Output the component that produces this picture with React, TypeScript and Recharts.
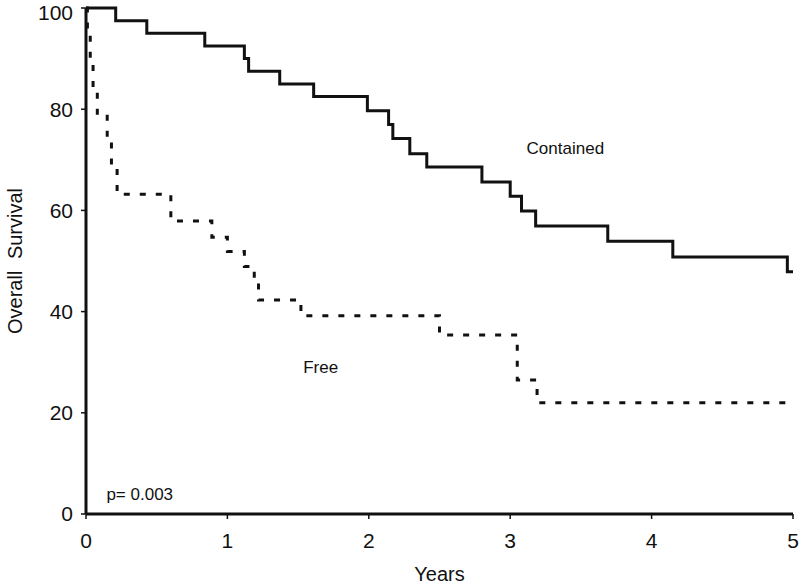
import { Label, Line, LineChart, ReferenceDot, XAxis, YAxis } from "recharts";

// Kaplan-Meier steps (years -> % surviving)
const containedYears = [
  0, 0.21, 0.43, 0.84, 1.12, 1.15, 1.37, 1.61, 1.99, 2.14, 2.17, 2.29, 2.41,
  2.8, 3.0, 3.08, 3.18, 3.69, 4.15, 4.96, 5.0,
];
const containedSurvival = [
  100, 97.5, 95, 92.5, 90, 87.5, 85, 82.5, 79.7, 77, 74.2, 71.2, 68.6, 65.6,
  62.8, 59.9, 56.9, 53.9, 50.8, 47.9, 47.9,
];

const freeYears = [
  0, 0.01, 0.03, 0.05, 0.08, 0.15, 0.18, 0.22, 0.6, 0.89, 1.0, 1.12, 1.19,
  1.22, 1.52, 2.5, 3.05, 3.19, 5.0,
];
const freeSurvival = [
  100, 94.7, 89.5, 84.2, 78.9, 73.7, 68.4, 63.2, 57.9, 54.7, 51.9, 48.9, 45.6,
  42.3, 39.2, 35.4, 26.5, 22.0, 22.0,
];

const xTicks = [0, 1, 2, 3, 4, 5];
const yTicks = [0, 20, 40, 60, 80, 100];

const containedData = containedYears.map((year, i) => ({
  year,
  value: containedSurvival[i],
}));
const freeData = freeYears.map((year, i) => ({ year, value: freeSurvival[i] }));

const FONT = "'Liberation Sans', Arial, Helvetica, sans-serif";
const INK = "#111";

// rotated y axis title, centred on the plot height
const YTitle = (props: any) => {
  const vb = props.viewBox || {};
  const cx = 15;
  const cy = (vb.y ?? 8) + (vb.height ?? 506) / 2;
  return (
    <text
      x={cx}
      y={cy}
      transform={`rotate(-90 ${cx} ${cy})`}
      textAnchor="middle"
      dominantBaseline="central"
      fill={INK}
      fontSize={20}
      fontFamily={FONT}
      wordSpacing={6}
    >
      Overall Survival
    </text>
  );
};

const App = () => {
  return (
    <div style={{ position: "absolute", left: 0, top: 0, background: "#fff" }}>
      <LineChart
        width={800}
        height={586}
        margin={{ top: 8, right: 7, left: 0, bottom: 12 }}
      >
        <XAxis
          type="number"
          dataKey="year"
          domain={[0, 5]}
          ticks={xTicks}
          allowDataOverflow
          height={60}
          axisLine={{ stroke: INK, strokeWidth: 3 }}
          tickLine={{ stroke: INK, strokeWidth: 1.5 }}
          tickSize={5}
          tickMargin={14}
          tick={{ fill: INK, fontSize: 21, fontFamily: FONT }}
        >
          <Label
            value="Years"
            position="insideBottom"
            offset={-7}
            style={{ fill: INK, fontSize: 20, fontFamily: FONT }}
          />
        </XAxis>
        <YAxis
          type="number"
          domain={[0, 100]}
          ticks={yTicks}
          width={86}
          axisLine={{ stroke: INK, strokeWidth: 3 }}
          tickLine={{ stroke: INK, strokeWidth: 1.5 }}
          tickSize={5}
          tickMargin={8}
          tick={{ fill: INK, fontSize: 21, fontFamily: FONT }}
        >
          <Label content={YTitle} />
        </YAxis>
        <Line
          data={freeData}
          dataKey="value"
          type="stepAfter"
          stroke={INK}
          strokeWidth={3}
          strokeDasharray="6 10"
          dot={false}
          isAnimationActive={false}
        />
        <Line
          data={containedData}
          dataKey="value"
          type="stepAfter"
          stroke={INK}
          strokeWidth={3}
          dot={false}
          isAnimationActive={false}
        />
        <ReferenceDot
          x={3.39}
          y={72.3}
          r={0}
          fill="none"
          stroke="none"
          label={{ value: "Contained", position: "center", fill: INK, fontSize: 17, fontFamily: FONT }}
        />
        <ReferenceDot
          x={1.66}
          y={29.1}
          r={0}
          fill="none"
          stroke="none"
          label={{ value: "Free", position: "center", fill: INK, fontSize: 17, fontFamily: FONT }}
        />
        <ReferenceDot
          x={0.38}
          y={4}
          r={0}
          fill="none"
          stroke="none"
          label={{ value: "p= 0.003", position: "center", fill: INK, fontSize: 17, fontFamily: FONT }}
        />
      </LineChart>
    </div>
  );
};

export default App;
